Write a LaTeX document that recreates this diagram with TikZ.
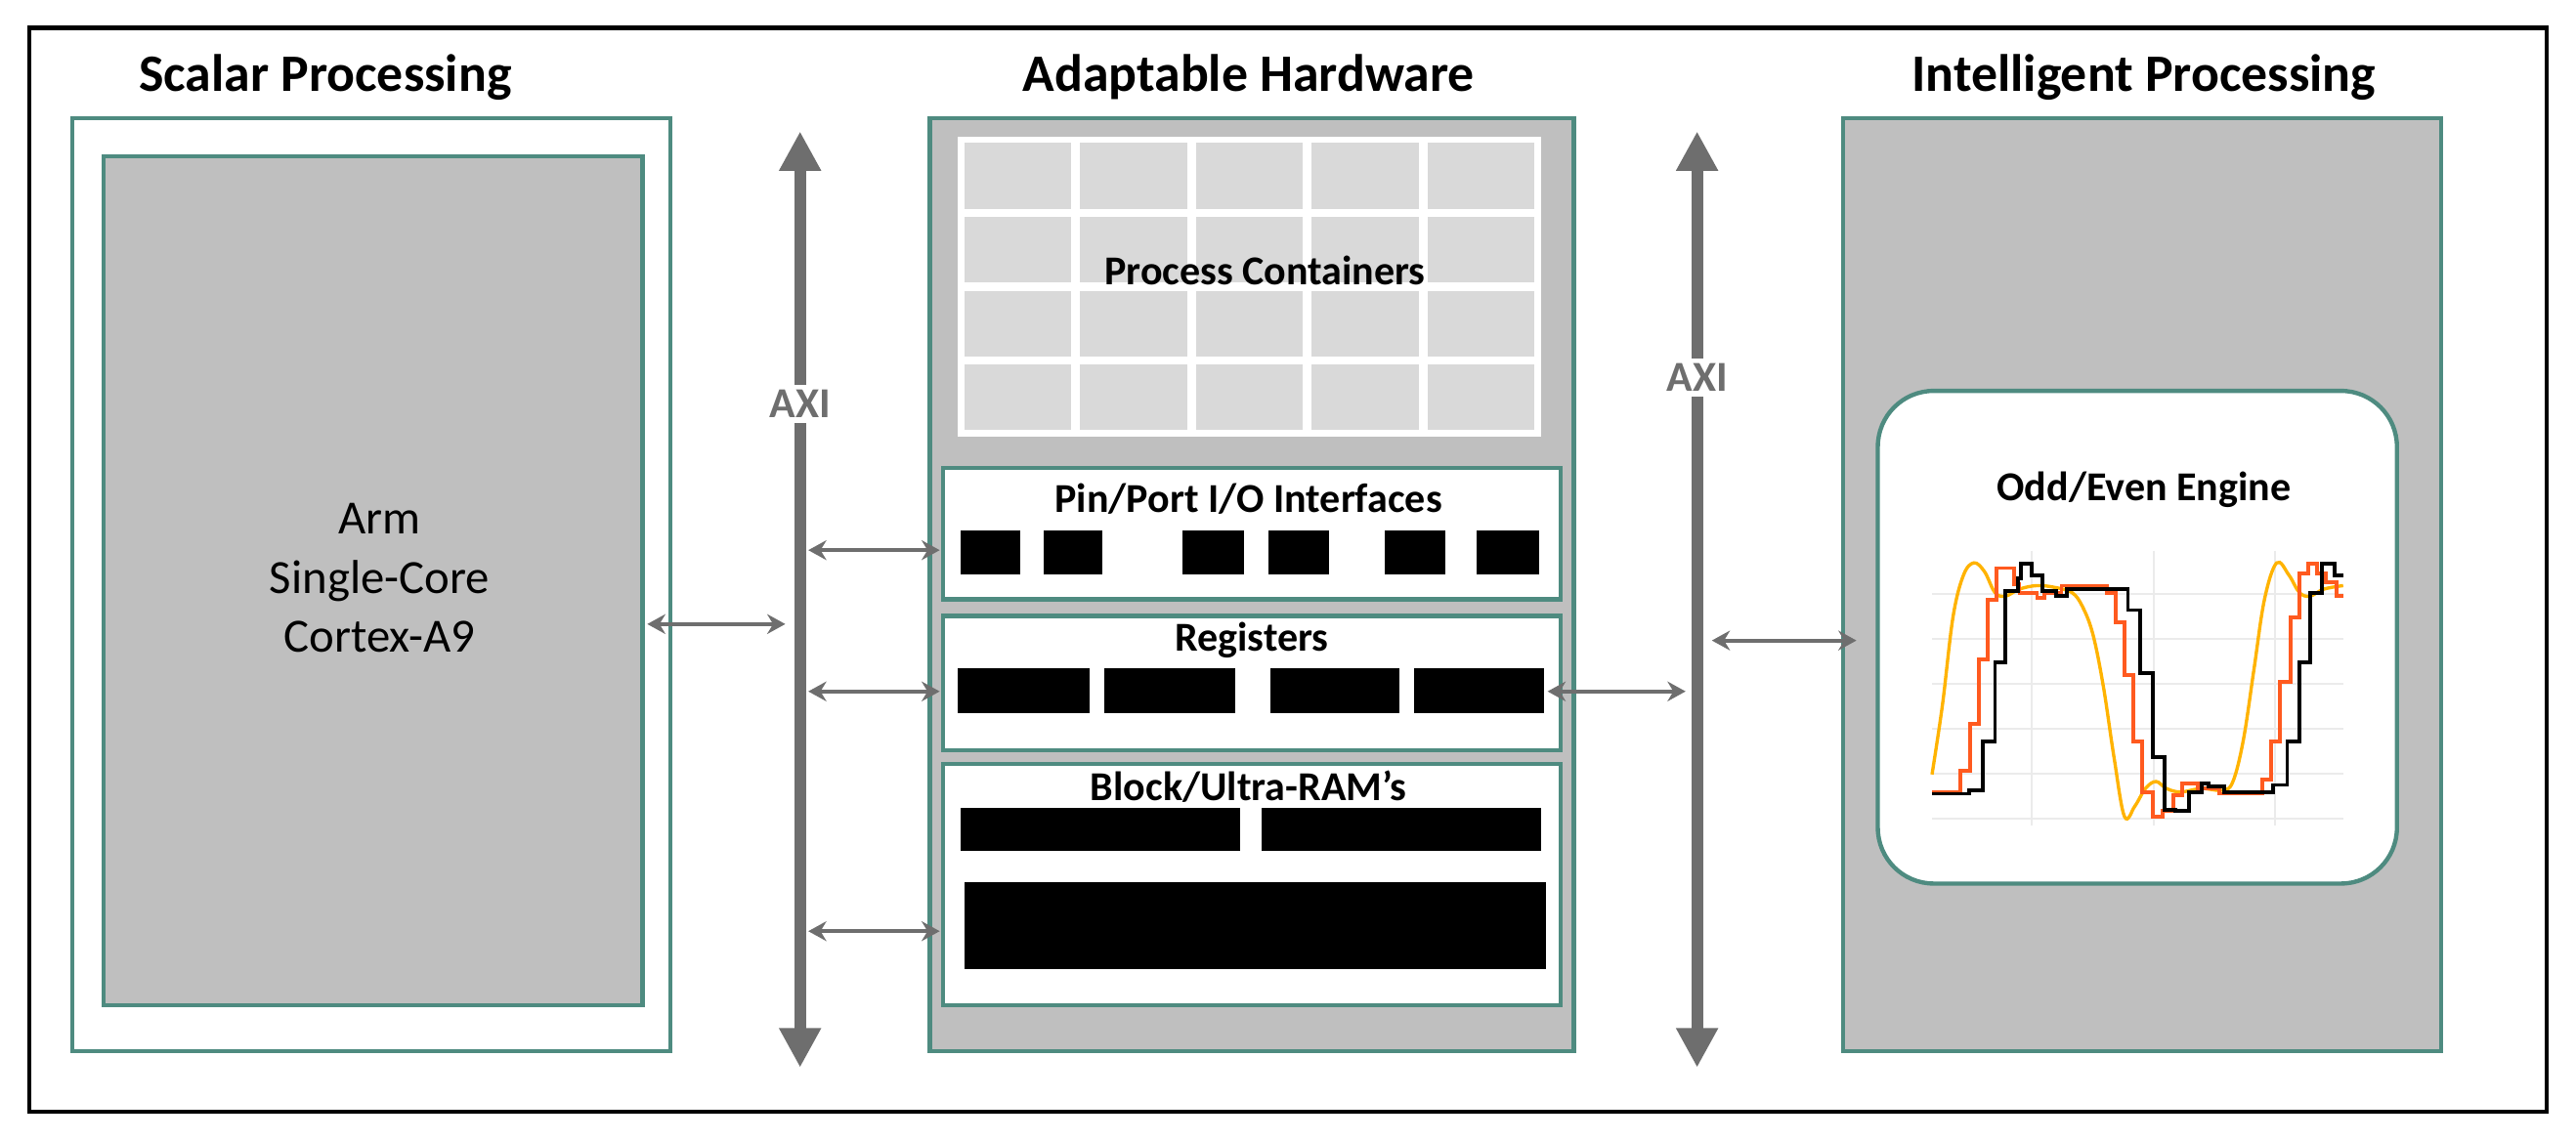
\documentclass[tikz,border=0pt]{standalone}
\usepackage{fontspec}
\setmainfont{Carlito}
\usetikzlibrary{arrows.meta}
\definecolor{teal}{HTML}{4E8B80}
\definecolor{fillg}{HTML}{BFBFBF}
\definecolor{cellg}{HTML}{D9D9D9}
\definecolor{arrg}{HTML}{6E6E6E}
\definecolor{orng}{HTML}{FF5A1F}
\definecolor{yell}{HTML}{FFB300}
\begin{document}
\begin{tikzpicture}[x=1pt,y=-1pt,
  box/.style={draw=teal,line width=2.6pt,inner sep=0pt},
  ttl/.style={font=\fontsize{32}{38}\selectfont\bfseries},
  sub/.style={font=\fontsize{25}{30}\selectfont\bfseries},
  bus/.style={draw=arrg,line width=7pt,{Triangle[length=24pt,width=24pt]}-{Triangle[length=24pt,width=24pt]}},
  lnk/.style={draw=arrg,line width=2.5pt,{Stealth[length=11pt,width=12pt]}-{Stealth[length=11pt,width=12pt]}},
  axi/.style={fill=white,text=arrg,inner sep=3pt,font=\fontsize{26}{30}\selectfont\bfseries}]
\useasboundingbox (0,0) rectangle (1568,695);
\draw[line width=2.5pt] (18,17) rectangle (1550,677);
\node[ttl] (t1) at (198,47) {Scalar Processing};
\node[ttl] (t2) at (760,47) {Adaptable Hardware};
\node[ttl] (t3) at (1305,47) {Intelligent Processing};
% scalar
\draw[box,fill=white] (44,72) rectangle (408,640);
\draw[box,fill=fillg] (63,95) rectangle (391,612);
\node[align=center,font=\fontsize{29}{36}\selectfont] (arm) at (231,352) {Arm\\Single-Core\\Cortex-A9};
\coordinate (armR) at (394,380);
% adaptable
\draw[box,fill=fillg] (566,72) rectangle (958,640);
\fill[white] (583,83) rectangle (938,266);
\foreach \i in {0,...,4}{\foreach \j in {0,...,3}{
  \fill[cellg] ({587+\i*70.5},{87+\j*45}) rectangle ({587+\i*70.5+65},{87+\j*45+40});}}
\node[sub] (pc) at (770,165) {Process Containers};
\draw[box,fill=white] (574,285) rectangle (950,365);
\node[sub] (pp) at (760,304) {Pin/Port I/O Interfaces};
\foreach \a/\b in {585/621,635/671,720/757,772/809,843/880,899/937}{\fill (\a,323) rectangle (\b,350);}
\draw[box,fill=white] (574,375) rectangle (950,457);
\node[sub] (rg) at (762,390) {Registers};
\foreach \a/\b in {583/663,672/752,773/852,861/940}{\fill (\a,407) rectangle (\b,434);}
\draw[box,fill=white] (574,465) rectangle (950,612);
\node[sub] (br) at (760,479) {Block/Ultra-RAM’s};
\fill (585,492) rectangle (755,518);
\fill (768,492) rectangle (938,518);
\fill (587,537) rectangle (941,590);
% intelligent
\draw[box,fill=fillg] (1122,72) rectangle (1486,640);
\draw[box,fill=white,rounded corners=34pt] (1143,238) rectangle (1459,538);
\node[sub] (oe) at (1305,298) {Odd/Even Engine};
% buses
\coordinate (b1t) at (487,80); \coordinate (b1b) at (487,650);
\coordinate (b2t) at (1033,80); \coordinate (b2b) at (1033,650);
\draw[bus] (b1b) -- (b1t);
\draw[bus] (b2b) -- (b2t);
\node[axi] (axi1) at (487,246) {AXI};
\node[axi] (axi2) at (1033,230) {AXI};
% links
\coordinate (a1) at (478,380);
\draw[lnk] (armR) -- (a1);
\coordinate (p1) at (492,335); \coordinate (p2) at (572,335);
\coordinate (r1) at (492,421); \coordinate (r2) at (572,421);
\coordinate (m1) at (492,567); \coordinate (m2) at (572,567);
\draw[lnk] (p1) -- (p2); \draw[lnk] (r1) -- (r2); \draw[lnk] (m1) -- (m2);
\coordinate (rr) at (942,421); \coordinate (x2) at (1026,421);
\draw[lnk] (rr) -- (x2);
\coordinate (x3) at (1042,390); \coordinate (ip) at (1130,390);
\draw[lnk] (x3) -- (ip);
% chart
\begin{scope}[shift={(1127,216)},scale=0.213]
\foreach \y in {685,812,940,1068,1197,1325}{\draw[black!8,line width=1.2pt] (230,\y) -- (1405,\y);}
\foreach \x in {515,865,1210}{\draw[black!8,line width=1.2pt] (\x,560) -- (\x,1345);}
\draw[yell,line width=2pt] plot[smooth,tension=0.6] coordinates{(230,1200) (260,1000) (290,750) (320,630) (350,595) (380,620) (410,680) (440,690) (480,670) (530,660) (580,665) (630,680) (660,720) (690,800) (720,950) (750,1150) (780,1320) (810,1290) (840,1240) (870,1220) (900,1240) (940,1250) (1000,1240) (1060,1245) (1090,1220) (1120,1100) (1150,900) (1180,700) (1215,595) (1250,630) (1280,680) (1310,690) (1350,670) (1405,660)};
\draw[orng,line width=2.3pt] (230,1250)--(310,1250)--(310,1190)--(340,1190)--(340,1055)--(365,1055)--(365,870)--(390,870)--(390,700)--(415,700)--(415,610)--(465,610)--(465,655)--(480,655)--(480,680)--(530,680)--(530,695)--(550,695)--(550,680)--(600,680)--(600,660)--(730,660)--(730,680)--(755,680)--(755,765)--(780,765)--(780,915)--(805,915)--(805,1105)--(830,1105)--(830,1250)--(860,1250)--(860,1320)--(890,1320)--(890,1305)--(920,1305)--(920,1260)--(945,1260)--(945,1225)--(990,1225)--(990,1240)--(1050,1240)--(1050,1255)--(1175,1255)--(1175,1215)--(1200,1215)--(1200,1105)--(1225,1105)--(1225,935)--(1255,935)--(1255,750)--(1280,750)--(1280,625)--(1305,625)--(1305,598)--(1330,598)--(1330,625)--(1355,625)--(1355,650)--(1385,650)--(1385,690)--(1405,690);
\draw[black,line width=2.3pt] (230,1255)--(335,1255)--(335,1245)--(375,1245)--(375,1105)--(410,1105)--(410,880)--(440,880)--(440,675)--(475,675)--(475,640)--(485,640)--(485,598)--(515,598)--(515,630)--(545,630)--(545,675)--(585,675)--(585,690)--(615,690)--(615,670)--(790,670)--(790,730)--(825,730)--(825,910)--(860,910)--(860,1150)--(895,1150)--(895,1300)--(925,1300)--(925,1305)--(965,1305)--(965,1250)--(1000,1250)--(1000,1225)--(1020,1225)--(1020,1235)--(1065,1235)--(1065,1250)--(1205,1250)--(1205,1230)--(1245,1230)--(1245,1105)--(1280,1105)--(1280,880)--(1310,880)--(1310,680)--(1345,680)--(1345,598)--(1380,598)--(1380,632)--(1405,632);
\end{scope}
\end{tikzpicture}
\end{document}
